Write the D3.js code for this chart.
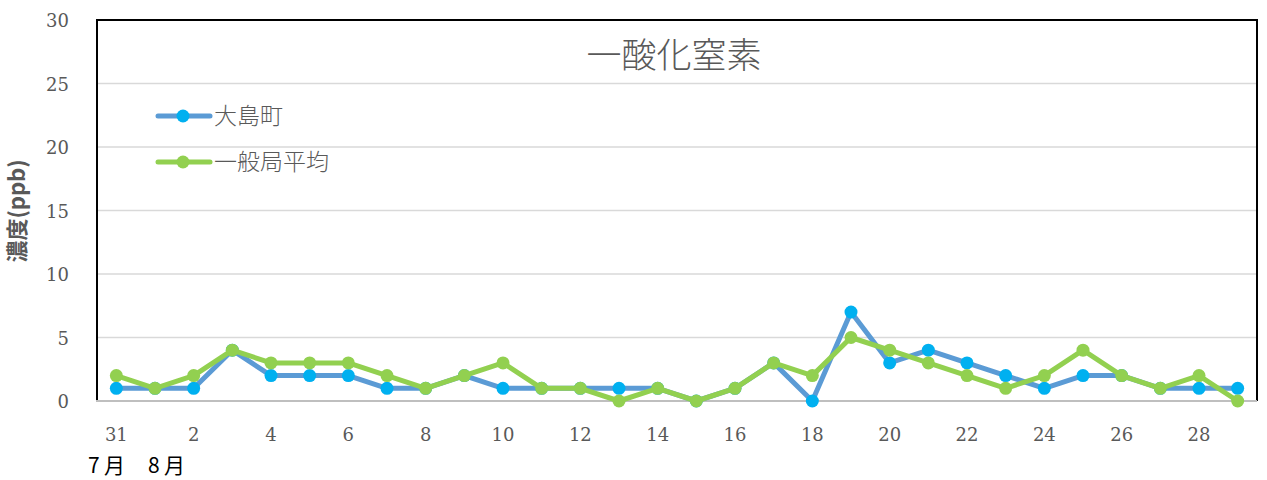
<!DOCTYPE html>
<html>
<head>
<meta charset="utf-8">
<script src="https://cdn.jsdelivr.net/npm/d3@7"></script>
<style>
  body { margin: 0; background: #fff; }
  svg text { fill: #595959; }
</style>
</head>
<body>
<svg id="chart" width="1267" height="480"></svg>
<script>
// days from 7/31 to 8/29
const days = [31, 1, 2, 3, 4, 5, 6, 7, 8, 9, 10, 11, 12, 13, 14, 15, 16, 17, 18, 19, 20, 21, 22, 23, 24, 25, 26, 27, 28, 29];
const oshima = [1, 1, 1, 4, 2, 2, 2, 1, 1, 2, 1, 1, 1, 1, 1, 0, 1, 3, 0, 7, 3, 4, 3, 2, 1, 2, 2, 1, 1, 1];
const average = [2, 1, 2, 4, 3, 3, 3, 2, 1, 2, 3, 1, 1, 0, 1, 0, 1, 3, 2, 5, 4, 3, 2, 1, 2, 4, 2, 1, 2, 0];
const yTicks = [0, 5, 10, 15, 20, 25, 30];
const monthLabels = ["7", "8"];

const series = [
  { name: "大島町", values: oshima, line: "#5B9BD5", marker: "#00B0F0" },
  { name: "一般局平均", values: average, line: "#92D050", marker: "#92D050" }
];

const svg = d3.select("#chart");
const plotLeft = 97, plotRight = 1257, plotTop = 20, plotBottom = 401;

const x = d3.scaleBand()
  .domain(d3.range(days.length))
  .range([plotLeft, plotRight]);

const y = d3.scaleLinear()
  .domain([0, 30])
  .range([plotBottom, plotTop]);

const cx = i => x(i) + x.bandwidth() / 2;

// gridlines
svg.append("g")
  .selectAll("line")
  .data(yTicks.filter(t => t > 0 && t < 30))
  .join("line")
    .attr("x1", plotLeft).attr("x2", plotRight)
    .attr("y1", d => y(d)).attr("y2", d => y(d))
    .attr("stroke", "#D9D9D9")
    .attr("stroke-width", 1.5);

// plot frame: black on top/left/right, grey axis at bottom
svg.append("path")
  .attr("d", `M${plotLeft},${plotBottom} V${plotTop} H${plotRight} V${plotBottom}`)
  .attr("fill", "none")
  .attr("stroke", "#000")
  .attr("stroke-width", 2);

svg.append("line")
  .attr("x1", plotLeft - 1).attr("x2", plotRight)
  .attr("y1", plotBottom).attr("y2", plotBottom)
  .attr("stroke", "#BFBFBF")
  .attr("stroke-width", 2);

// y tick labels
svg.append("g")
  .selectAll("text")
  .data(yTicks)
  .join("text")
    .attr("x", 69)
    .attr("y", d => y(d) + 7)
    .attr("text-anchor", "end")
    .attr("font-family", "'DejaVu Serif', 'Liberation Serif', serif")
    .attr("font-size", 18)
    .text(d => d);

// x tick labels, every other day
svg.append("g")
  .selectAll("text")
  .data(days.map((d, i) => ({ d, i })).filter(o => o.i % 2 === 0))
  .join("text")
    .attr("x", o => cx(o.i))
    .attr("y", 441)
    .attr("text-anchor", "middle")
    .attr("font-family", "'DejaVu Serif', 'Liberation Serif', serif")
    .attr("font-size", 18)
    .text(o => o.d);

// month labels
const months = svg.append("g")
  .selectAll("text")
  .data(monthLabels)
  .join("text")
    .attr("x", (d, i) => 88 + i * 60)
    .attr("y", 473)
    .attr("font-family", "'Noto Sans CJK JP', serif")
    .attr("font-size", 21)
    .style("fill", "#000");
months.append("tspan").text(d => d);
months.append("tspan").attr("x", (d, i) => 104 + i * 60).text("月");

// y axis title
svg.append("text")
  .attr("transform", "translate(25,211) rotate(-90)")
  .attr("text-anchor", "middle")
  .attr("font-family", "'Noto Sans CJK JP', sans-serif")
  .attr("font-size", 22)
  .attr("font-weight", "bold")
  .text("濃度(ppb)");

// chart title
svg.append("text")
  .attr("x", 674)
  .attr("y", 68)
  .attr("text-anchor", "middle")
  .attr("font-family", "'Noto Sans CJK JP', sans-serif")
  .attr("font-size", 35)
  .attr("font-weight", 300)
  .text("一酸化窒素");

const line = d3.line()
  .x((d, i) => cx(i))
  .y(d => y(d));

series.forEach(s => {
  const g = svg.append("g");
  g.append("path")
    .attr("d", line(s.values))
    .attr("fill", "none")
    .attr("stroke", s.line)
    .attr("stroke-width", 5)
    .attr("stroke-linejoin", "round");
  g.selectAll("circle")
    .data(s.values)
    .join("circle")
      .attr("cx", (d, i) => cx(i))
      .attr("cy", d => y(d))
      .attr("r", 6.5)
      .attr("fill", s.marker);
});

// legend
const legend = svg.append("g");
series.forEach((s, i) => {
  const ly = 116 + i * 46;
  legend.append("line")
    .attr("x1", 158).attr("x2", 210)
    .attr("y1", ly).attr("y2", ly)
    .attr("stroke", s.line)
    .attr("stroke-width", 5)
    .attr("stroke-linecap", "round");
  legend.append("circle")
    .attr("cx", 183).attr("cy", ly)
    .attr("r", 6.5)
    .attr("fill", s.marker);
  legend.append("text")
    .attr("x", 214)
    .attr("y", ly + 8)
    .attr("font-family", "'Noto Sans CJK JP', sans-serif")
    .attr("font-size", 23)
    .attr("font-weight", 300)
    .text(s.name);
});
</script>
</body>
</html>
